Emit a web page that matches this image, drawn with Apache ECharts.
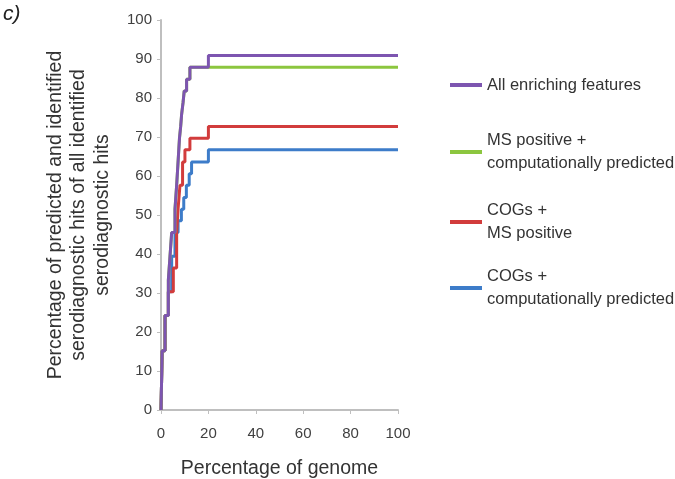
<!DOCTYPE html>
<html>
<head>
<meta charset="utf-8">
<script src="https://cdn.jsdelivr.net/npm/echarts@6/dist/echarts.min.js"></script>
<style>html,body{margin:0;padding:0;background:#fff}#c{width:675px;height:479px}</style>
</head>
<body>
<div id="c"></div>
<script>
// Percentage of genome (x) and cumulative percentage of serodiagnostic hits (y)
var seriesNames = ["All enriching features", "MS positive +\ncomputationally predicted", "COGs +\nMS positive", "COGs +\ncomputationally predicted"];
var xAll   = [0, 0.5, 1.7, 3.1, 3.8, 4.5, 5.9, 6.6, 7.2, 7.8, 8.3, 8.7, 9.3, 9.8, 10.8, 12.2, 20, 100];
var yAll   = [0, 15.2, 24.2, 33.3, 39.4, 45.5, 51.5, 57.6, 63.6, 69.7, 72.7, 75.8, 78.8, 81.8, 84.8, 87.9, 90.9, 90.9];
var xMsComp = [0, 0.5, 1.7, 3.1, 3.8, 4.5, 5.9, 6.6, 7.2, 7.8, 8.3, 8.7, 9.3, 9.8, 10.8, 12.2, 100];
var yMsComp = [0, 15.2, 24.2, 33.3, 39.4, 45.5, 51.5, 57.6, 63.6, 69.7, 72.7, 75.8, 78.8, 81.8, 84.8, 87.9, 87.9];
var xCogMs = [0, 0.5, 1.7, 3.1, 5.2, 6.6, 7.2, 8.0, 9.1, 10.1, 12.2, 20, 100];
var yCogMs = [0, 15.2, 24.2, 30.3, 36.4, 45.5, 51.5, 57.6, 63.6, 66.7, 69.7, 72.7, 72.7];
var xCogComp = [0, 0.5, 1.7, 3.1, 4.5, 5.9, 7.2, 8.6, 9.6, 10.7, 11.9, 12.9, 20, 100];
var yCogComp = [0, 15.2, 24.2, 30.3, 39.4, 45.5, 48.5, 51.5, 54.5, 57.6, 60.6, 63.6, 66.7, 66.7];
var xTicks = [0, 20, 40, 60, 80, 100];
var yTicks = [0, 10, 20, 30, 40, 50, 60, 70, 80, 90, 100];

function pairs(xs, ys) { return xs.map(function (x, i) { return [x, ys[i]]; }); }

var colors = { all: '#7d55b0', msComp: '#8cc63f', cogMs: '#d23c3c', cogComp: '#3d7cc9' };
var font = 'Liberation Sans, Arial, sans-serif';

function mkLegend(name, top, multi) {
  return {
    data: [name], left: 450, top: top, padding: 0, orient: 'vertical',
    icon: 'rect', itemWidth: 32, itemHeight: 4, selectedMode: false,
    textStyle: { fontFamily: font, fontSize: 16.5, color: '#333', lineHeight: 23, padding: multi ? [23, 0, 0, 0] : 0 }
  };
}

var chart = echarts.init(document.getElementById('c'), null, { renderer: 'canvas' });
var lineStyle = function (c) { return { width: 3, color: c }; };
chart.setOption({
  animation: false,
  backgroundColor: '#fff',
  grid: { left: 161, right: 277, top: 20, bottom: 69, containLabel: false, outerBoundsMode: 'none' },
  legend: [
    mkLegend(seriesNames[0], 73.5, false),
    mkLegend(seriesNames[1], 117.5, true),
    mkLegend(seriesNames[2], 187.5, true),
    mkLegend(seriesNames[3], 253.5, true)
  ],
  graphic: [{ type: 'text', left: 3, top: 4, style: { text: 'c)', fontFamily: font, fontSize: 21, fontStyle: 'italic', fill: '#222' } }],
  xAxis: {
    type: 'value', min: 0, max: 100, interval: 20,
    name: 'Percentage of genome', nameLocation: 'middle', nameGap: 49,
    nameTextStyle: { fontFamily: font, fontSize: 19.5, color: '#333' },
    axisLine: { lineStyle: { color: '#bfbfbf', width: 2 } },
    axisTick: { show: true, length: 4, lineStyle: { color: '#bfbfbf' } },
    axisLabel: { fontFamily: font, fontSize: 15, color: '#404040', margin: 16, formatter: function (v) { return xTicks.indexOf(v) >= 0 ? String(v) : ''; } },
    splitLine: { show: false }
  },
  yAxis: {
    type: 'value', min: 0, max: 100, interval: 10,
    name: 'Percentage of predicted and identified\nserodiagnostic hits of all identified\nserodiagnostic hits',
    nameLocation: 'middle', nameGap: 47, nameRotate: 90,
    nameTextStyle: { fontFamily: font, fontSize: 19.5, color: '#333', lineHeight: 23.5, align: 'center' },
    axisLine: { show: true, lineStyle: { color: '#bfbfbf', width: 2 } },
    axisTick: { show: true, length: 4, lineStyle: { color: '#bfbfbf' } },
    axisLabel: { fontFamily: font, fontSize: 15, color: '#404040', margin: 9, formatter: function (v) { return yTicks.indexOf(v) >= 0 ? String(v) : ''; } },
    splitLine: { show: false }
  },
  series: [
    { name: seriesNames[3], type: 'line', step: 'end', showSymbol: false, data: pairs(xCogComp, yCogComp), lineStyle: lineStyle(colors.cogComp), itemStyle: { color: colors.cogComp } },
    { name: seriesNames[2], type: 'line', step: 'end', showSymbol: false, data: pairs(xCogMs, yCogMs), lineStyle: lineStyle(colors.cogMs), itemStyle: { color: colors.cogMs } },
    { name: seriesNames[1], type: 'line', step: 'end', showSymbol: false, data: pairs(xMsComp, yMsComp), lineStyle: lineStyle(colors.msComp), itemStyle: { color: colors.msComp } },
    { name: seriesNames[0], type: 'line', step: 'end', showSymbol: false, data: pairs(xAll, yAll), lineStyle: lineStyle(colors.all), itemStyle: { color: colors.all } }
  ]
});
</script>
</body>
</html>
